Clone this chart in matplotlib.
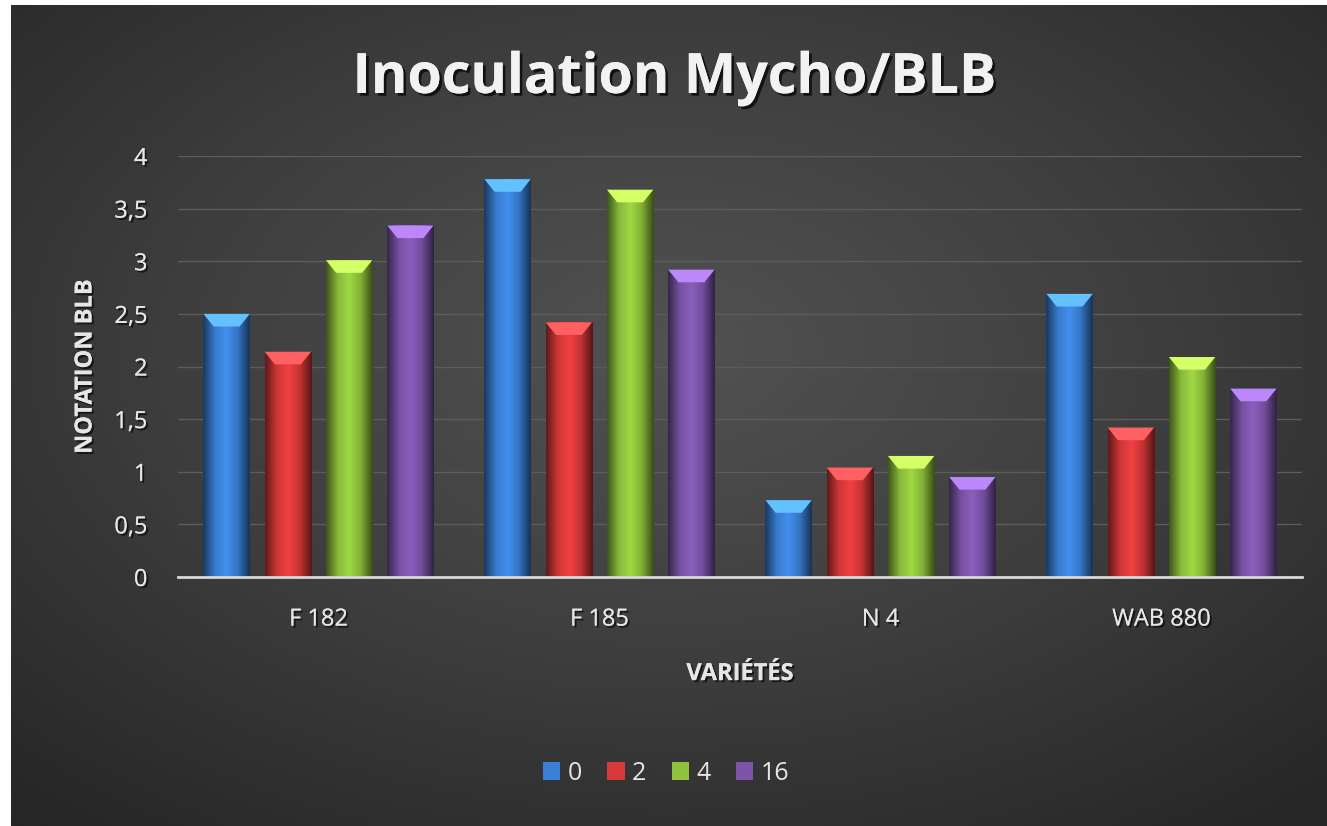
import numpy as np
import matplotlib.pyplot as plt
from matplotlib.colors import LinearSegmentedColormap, to_rgb
from matplotlib.patches import Patch, Polygon
import matplotlib.patheffects as pe

# data
varietes = ['F 182', 'F 185', 'N 4', 'WAB 880']
series_labels = ['0', '2', '4', '16']
serie_0 = [2.50, 3.78, 0.73, 2.69]
serie_2 = [2.14, 2.42, 1.04, 1.42]
serie_4 = [3.01, 3.68, 1.15, 2.09]
serie_16 = [3.34, 2.92, 0.95, 1.79]
series = [serie_0, serie_2, serie_4, serie_16]
colors = ['#3b80d6', '#d8393a', '#8fc23d', '#7c55aa']
yticks = [0, 0.5, 1, 1.5, 2, 2.5, 3, 3.5, 4]

plt.rcParams['font.family'] = ['Open Sans', 'DejaVu Sans']
txt_col = '#e6e6e6'
shadow = [pe.withSimplePatchShadow(offset=(1.5, -1.5), shadow_rgbFace='black', alpha=0.6), pe.Normal()]

fig = plt.figure(figsize=(13.27, 8.26), dpi=100)
fig.patch.set_facecolor('white')

# background with radial gradient
bg = fig.add_axes([11 / 1327, 0, 1 - 11 / 1327, 1 - 5 / 826])
bg.set_axis_off()
yy, xx = np.mgrid[0:1:300j, 0:1:400j]
r = np.sqrt(((xx - 0.5) / 0.75) ** 2 + ((yy - 0.42) / 0.75) ** 2)
r = np.clip(r, 0, 1)
bg_cmap = LinearSegmentedColormap.from_list('bg', ['#525252', '#3e3e3e', '#262626'])
bg.imshow(r, cmap=bg_cmap, aspect='auto', extent=[0, 1, 0, 1], origin='upper')
bg.set_xlim(0, 1)
bg.set_ylim(0, 1)

ax = fig.add_axes([178 / 1327, 1 - 577 / 826, (1302 - 178) / 1327, (577 - 156) / 826])
ax.patch.set_alpha(0)

x = np.arange(len(varietes))
step = 0.218
width = 0.165
for i, (vals, c) in enumerate(zip(series, colors)):
    bars = ax.bar(x + (i - 1.5) * step, vals, width, color=c, zorder=3, label=series_labels[i])
    rgb = np.array(to_rgb(c))
    cmap = LinearSegmentedColormap.from_list(
        'b%d' % i, [rgb * 0.45, rgb * 0.95, np.minimum(rgb * 1.12, 1), rgb * 0.9, rgb * 0.4])
    grad = np.linspace(0, 1, 64).reshape(1, -1)
    for b in bars:
        x0, w, h = b.get_x(), b.get_width(), b.get_height()
        im = ax.imshow(grad, cmap=cmap, aspect='auto', extent=[x0, x0 + w, 0, h], zorder=4)
        im.set_clip_path(b)
        # top bevel
        d = 0.12
        inset = w * 0.22
        top = Polygon([[x0, h], [x0 + w, h], [x0 + w - inset, h - d], [x0 + inset, h - d]],
                      closed=True, facecolor=np.minimum(rgb * 1.35 + 0.08, 1), edgecolor='none', zorder=5)
        ax.add_patch(top)

ax.set_xlim(-0.5, 3.5)
ax.set_ylim(0, 4)
ax.set_yticks(yticks)
ax.set_yticklabels([('%g' % v).replace('.', ',') for v in yticks])
ax.set_xticks(x)
ax.set_xticklabels(varietes)
ax.yaxis.grid(True, color='#5c5c5c', linewidth=1, zorder=0)
ax.set_axisbelow(True)
for s in ['top', 'right', 'left']:
    ax.spines[s].set_visible(False)
ax.spines['bottom'].set_color('#d8d8d8')
ax.spines['bottom'].set_linewidth(2)
ax.spines['bottom'].set_zorder(6)
ax.tick_params(axis='both', length=0, colors=txt_col, labelsize=17)
ax.tick_params(axis='y', pad=22)
ax.tick_params(axis='x', pad=22)
for lab in ax.get_xticklabels() + ax.get_yticklabels():
    lab.set_path_effects(shadow)

ax.set_ylabel('NOTATION BLB', fontsize=17, fontweight='bold', color=txt_col, labelpad=12,
              path_effects=shadow)
ax.set_xlabel('VARIÉTÉS', fontsize=17, fontweight='bold', color=txt_col, labelpad=22,
              path_effects=shadow)

fig.text(0.508, 0.905, 'Inoculation Mycho/BLB', ha='center', va='center', fontsize=40,
         fontweight='bold', color='#f2f2f2',
         path_effects=[pe.withSimplePatchShadow(offset=(2, -2), shadow_rgbFace='black', alpha=0.7),
                       pe.Normal()])

handles = [Patch(facecolor=c, label=l) for c, l in zip(colors, series_labels)]
leg = fig.legend(handles=handles, loc='center', bbox_to_anchor=(0.502, 0.064), ncol=4,
                 frameon=False, fontsize=18, handlelength=0.7, handleheight=0.7,
                 handletextpad=0.3, columnspacing=1.0)
for t in leg.get_texts():
    t.set_color(txt_col)

fig.savefig('out.png', dpi=100, facecolor=fig.get_facecolor())
